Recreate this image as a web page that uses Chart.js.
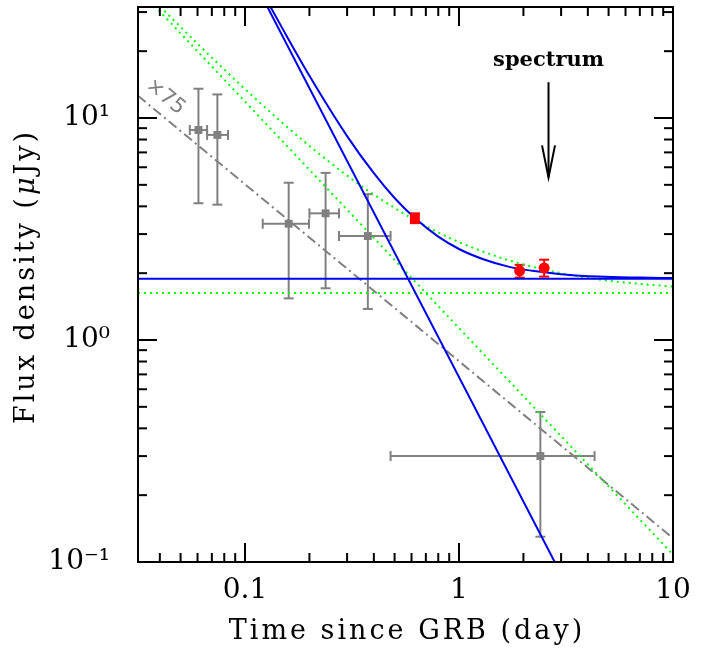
<!DOCTYPE html>
<html>
<head>
<meta charset="utf-8">
<script src="https://cdn.jsdelivr.net/npm/chart.js@4.4.1/dist/chart.umd.min.js"></script>
<style>
  html, body { margin: 0; padding: 0; background: #fff; }
  #lc { display: block; }
</style>
</head>
<body>
<canvas id="lc" width="715" height="650"></canvas>
<script>
// --- values (time in days, flux density in uJy) ---
const xTickMajor = [0.1, 1, 10];
const xTickMinor = [0.04, 0.05, 0.06, 0.07, 0.08, 0.09,
                    0.2, 0.3, 0.4, 0.5, 0.6, 0.7, 0.8, 0.9,
                    2, 3, 4, 5, 6, 7, 8, 9];
const yTickMajor = [0.1, 1, 10];
const yTickMinor = [0.2, 0.3, 0.4, 0.5, 0.6, 0.7, 0.8, 0.9,
                    2, 3, 4, 5, 6, 7, 8, 9, 20, 30];
const yTickLabels = { 0.1: '10\u207B\u00B9', 1: '10\u2070', 10: '10\u00B9' };

// grey points (scaled by 75)
const greyT   = [0.0606, 0.0743, 0.160, 0.238, 0.375, 2.40];
const greyF   = [8.83, 8.39, 3.34, 3.72, 2.94, 0.300];
const greyTLo = [0.0552, 0.0665, 0.121, 0.200, 0.275, 0.479];
const greyTHi = [0.0665, 0.0833, 0.199, 0.275, 0.479, 4.30];
const greyFLo = [4.13, 4.07, 1.54, 1.71, 1.38, 0.130];
const greyFHi = [13.55, 12.77, 5.11, 5.66, 4.54, 0.474];

// red points
const redSqT = [0.622];
const redSqF = [3.53];
const redSqFLo = [3.36];
const redSqFHi = [3.72];
const redDotT = [1.92, 2.50];
const redDotF = [2.05, 2.11];
const redDotFLo = [1.91, 1.93];
const redDotFHi = [2.18, 2.30];

// blue model
const blueSteepT = [0.12, 3.0];
const blueSteepF = [35.3, 0.088];
const blueFlatT = [0.0316, 10];
const blueFlatF = [1.89, 1.89];
const blueSumT = [0.125, 0.15, 0.2, 0.3, 0.4, 0.5, 0.62, 0.8, 1, 1.3, 1.7, 2.2, 3, 4.5, 7, 10];
const blueSumF = [34.6, 25.2, 15.5, 8.29, 5.64, 4.36, 3.55, 2.92, 2.57, 2.31, 2.14, 2.05, 1.98, 1.93, 1.91, 1.90];

// green model
const greenPowT = [0.0316, 10];
const greenPowF = [38.4, 0.108];
const greenFlatT = [0.0316, 10];
const greenFlatF = [1.63, 1.63];
const greenSumT = [0.035, 0.05, 0.07, 0.1, 0.15, 0.2, 0.3, 0.4, 0.6, 0.8, 1, 1.5, 2, 3, 5, 7, 10];
const greenSumF = [36.3, 25.7, 18.7, 13.5, 9.48, 7.49, 5.50, 4.52, 3.54, 3.05, 2.76, 2.38, 2.19, 2.00, 1.85, 1.79, 1.74];

// grey dash-dot fit
const greyFitT = [0.0316, 10];
const greyFitF = [12.6, 0.128];

// annotations
const spectrumT = 2.62;
const spectrumLabelF = 18.5;
const spectrumArrowTopF = 14.5;
const spectrumArrowTipF = 5.4;
const scaleLabel = '\u00D775';
const scaleLabelT = 0.0424;
const scaleLabelF = 12.45;
const xTitle = 'Time since GRB (day)';
const yTitleParts = ['Flux density (', '\u03BC', 'Jy)'];

function pts(ts, fs) {
    return ts.map((t, i) => ({ x: t, y: fs[i] }));
}

const BLUE = '#0000f0';
const GREEN = '#00ff00';
const GREY = '#808080';
const RED = '#ff0000';
const SERIF = '"DejaVu Serif", serif';

document.addEventListener('DOMContentLoaded', function() {
    const canvas = document.getElementById('lc');

    // --- error bars, drawn under the markers ---
    const errorBars = {
        id: 'errorBars',
        beforeDatasetsDraw(chart) {
            const { ctx, chartArea: a, scales: { x, y } } = chart;
            ctx.save();
            ctx.beginPath();
            ctx.rect(a.left, a.top, a.right - a.left, a.bottom - a.top);
            ctx.clip();
            ctx.lineWidth = 2;

            function seg(x1, y1, x2, y2) {
                ctx.beginPath();
                ctx.moveTo(x1, y1);
                ctx.lineTo(x2, y2);
                ctx.stroke();
            }
            function bars(ts, fs, fLo, fHi, tLo, tHi, color, cap) {
                ctx.strokeStyle = color;
                ts.forEach(function(t, i) {
                    const px = x.getPixelForValue(t);
                    const py = y.getPixelForValue(fs[i]);
                    const yLo = y.getPixelForValue(fLo[i]);
                    const yHi = y.getPixelForValue(fHi[i]);
                    seg(px, yLo, px, yHi);
                    seg(px - cap, yLo, px + cap, yLo);
                    seg(px - cap, yHi, px + cap, yHi);
                    if (tLo) {
                        const xLo = x.getPixelForValue(tLo[i]);
                        const xHi = x.getPixelForValue(tHi[i]);
                        seg(xLo, py, xHi, py);
                        seg(xLo, py - cap, xLo, py + cap);
                        seg(xHi, py - cap, xHi, py + cap);
                    }
                });
            }
            bars(greyT, greyF, greyFLo, greyFHi, greyTLo, greyTHi, GREY, 5);
            bars(redSqT, redSqF, redSqFLo, redSqFHi, null, null, RED, 5);
            bars(redDotT, redDotF, redDotFLo, redDotFHi, null, null, RED, 5);
            ctx.restore();
        }
    };

    // --- frame with inward ticks on all four sides, titles and annotations ---
    const frameAndNotes = {
        id: 'frameAndNotes',
        afterDraw(chart) {
            const { ctx, chartArea: a, scales: { x, y } } = chart;
            ctx.save();
            ctx.strokeStyle = '#000';
            ctx.lineWidth = 2;
            ctx.strokeRect(a.left, a.top, a.right - a.left, a.bottom - a.top);

            function seg(x1, y1, x2, y2) {
                ctx.beginPath();
                ctx.moveTo(x1, y1);
                ctx.lineTo(x2, y2);
                ctx.stroke();
            }
            function xTick(v, len) {
                const px = x.getPixelForValue(v);
                seg(px, a.bottom, px, a.bottom - len);
                seg(px, a.top, px, a.top + len);
            }
            function yTick(v, len) {
                const py = y.getPixelForValue(v);
                seg(a.left, py, a.left + len, py);
                seg(a.right, py, a.right - len, py);
            }
            xTickMajor.forEach(v => xTick(v, 19));
            xTickMinor.forEach(v => xTick(v, 9));
            yTickMajor.forEach(v => yTick(v, 19));
            yTickMinor.forEach(v => yTick(v, 9));

            // axis titles (wide letter spacing like the original)
            ctx.fillStyle = '#000';
            ctx.letterSpacing = '3px';
            ctx.font = '27px ' + SERIF;
            ctx.textAlign = 'center';
            ctx.textBaseline = 'middle';
            ctx.fillText(xTitle, (a.left + a.right) / 2 + 1.5, a.bottom + 70);

            ctx.save();
            ctx.translate(27, (a.top + a.bottom) / 2 - 8);
            ctx.rotate(-Math.PI / 2);
            ctx.textAlign = 'left';
            const fonts = ['27px ' + SERIF, 'italic 27px ' + SERIF, '27px ' + SERIF];
            let total = 0;
            yTitleParts.forEach(function(s, i) {
                ctx.font = fonts[i];
                total += ctx.measureText(s).width;
            });
            let cx = -total / 2;
            yTitleParts.forEach(function(s, i) {
                ctx.font = fonts[i];
                ctx.fillText(s, cx, 0);
                cx += ctx.measureText(s).width;
            });
            ctx.restore();
            ctx.letterSpacing = '0px';

            // spectrum arrow
            const sx = x.getPixelForValue(spectrumT);
            const yTop = y.getPixelForValue(spectrumArrowTopF);
            const yTip = y.getPixelForValue(spectrumArrowTipF);
            ctx.lineWidth = 2;
            seg(sx, yTop, sx, yTip);
            ctx.beginPath();
            ctx.moveTo(sx - 6.5, yTip - 32);
            ctx.lineTo(sx, yTip);
            ctx.lineTo(sx + 6.5, yTip - 32);
            ctx.stroke();

            ctx.font = 'bold 21px ' + SERIF;
            ctx.textAlign = 'center';
            ctx.textBaseline = 'alphabetic';
            ctx.fillText('spectrum', sx, y.getPixelForValue(spectrumLabelF) + 7);

            // rotated scale label along the grey dash-dot line
            const x0 = x.getPixelForValue(greyFitT[0]);
            const y0 = y.getPixelForValue(greyFitF[0]);
            const x1 = x.getPixelForValue(greyFitT[1]);
            const y1 = y.getPixelForValue(greyFitF[1]);
            ctx.translate(x.getPixelForValue(scaleLabelT), y.getPixelForValue(scaleLabelF));
            ctx.rotate(Math.atan2(y1 - y0, x1 - x0));
            ctx.fillStyle = GREY;
            ctx.font = '21px "DejaVu Sans", sans-serif';
            ctx.textBaseline = 'middle';
            ctx.fillText(scaleLabel, 0, 0);
            ctx.restore();
        }
    };

    function lineSet(data, color, dash, extra) {
        return Object.assign({
            data: data,
            showLine: true,
            borderColor: color,
            borderWidth: 2,
            borderDash: dash,
            pointRadius: 0,
            fill: false
        }, extra || {});
    }

    new Chart(canvas.getContext('2d'), {
        type: 'scatter',
        data: {
            datasets: [
                { data: pts(redSqT, redSqF), pointStyle: 'rect', pointRadius: 7, backgroundColor: RED, borderWidth: 0, order: 0 },
                { data: pts(redDotT, redDotF), pointStyle: 'circle', pointRadius: 5.5, backgroundColor: RED, borderWidth: 0, order: 0 },
                { data: pts(greyT, greyF), pointStyle: 'rect', pointRadius: 5.6, backgroundColor: GREY, borderWidth: 0, order: 1 },
                lineSet(pts(blueSumT, blueSumF), BLUE, [], { cubicInterpolationMode: 'monotone', order: 2 }),
                lineSet(pts(blueSteepT, blueSteepF), BLUE, [], { order: 2 }),
                lineSet(pts(blueFlatT, blueFlatF), BLUE, [], { order: 2 }),
                lineSet(pts(greenSumT, greenSumF), GREEN, [2, 4], { cubicInterpolationMode: 'monotone', order: 3 }),
                lineSet(pts(greenPowT, greenPowF), GREEN, [2, 4], { order: 3 }),
                lineSet(pts(greenFlatT, greenFlatF), GREEN, [2, 4], { order: 3 }),
                lineSet(pts(greyFitT, greyFitF), GREY, [10, 4, 2, 4], { order: 3 })
            ]
        },
        options: {
            responsive: false,
            animation: false,
            devicePixelRatio: 1,
            layout: { padding: { left: 0, right: 42, top: 5, bottom: 0 } },
            plugins: {
                legend: { display: false },
                tooltip: { enabled: false }
            },
            scales: {
                x: {
                    type: 'logarithmic',
                    min: 0.0316228,
                    max: 10,
                    grid: { display: false },
                    border: { display: false },
                    afterBuildTicks: function(axis) {
                        axis.ticks = xTickMajor.map(v => ({ value: v, major: true }));
                    },
                    afterFit: function(axis) {
                        axis.height = 88;
                        axis.paddingLeft = 0;
                        axis.paddingRight = 0;
                    },
                    ticks: {
                        autoSkip: false,
                        maxRotation: 0,
                        padding: 4,
                        color: '#000',
                        font: { family: SERIF, size: 28 },
                        callback: function(v) { return String(v); }
                    }
                },
                y: {
                    type: 'logarithmic',
                    min: 0.1,
                    max: 31.6228,
                    grid: { display: false },
                    border: { display: false },
                    afterBuildTicks: function(axis) {
                        axis.ticks = yTickMajor.map(v => ({ value: v, major: true }));
                    },
                    afterFit: function(axis) {
                        axis.width = 138;
                        axis.paddingTop = 0;
                        axis.paddingBottom = 0;
                    },
                    ticks: {
                        autoSkip: false,
                        padding: 20,
                        color: '#000',
                        font: { family: SERIF, size: 28 },
                        callback: function(v) { return yTickLabels[v] || ''; }
                    }
                }
            }
        },
        plugins: [errorBars, frameAndNotes]
    });
});
</script>
</body>
</html>
